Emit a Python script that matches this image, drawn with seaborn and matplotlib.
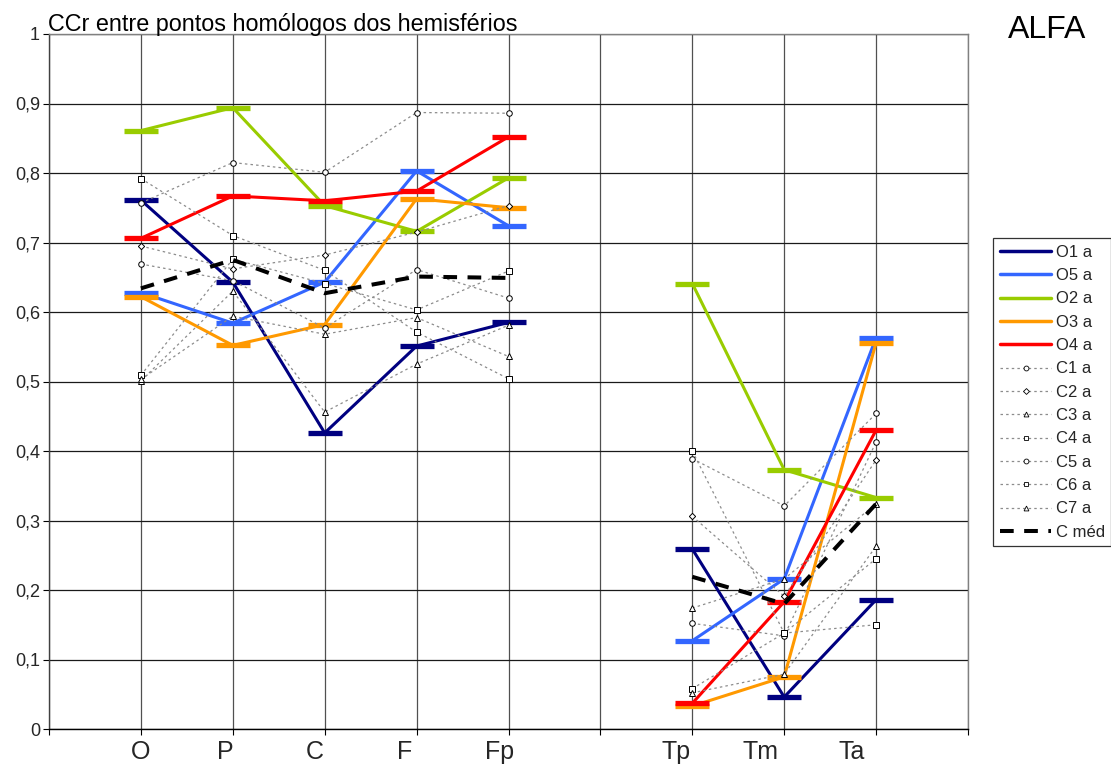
import matplotlib
matplotlib.use("Agg")
import matplotlib.pyplot as plt
import matplotlib.transforms as mtransforms
from matplotlib.lines import Line2D
import pandas as pd
import seaborn as sns

# Electrode regions; slot 6 on the axis is left empty between the two groups
categories = ["O", "P", "C", "F", "Fp", "Tp", "Tm", "Ta"]
cat_pos = [1, 2, 3, 4, 5, 7, 8, 9]

# Patient series (alpha band)
O1 = [0.761, 0.643, 0.426, 0.551, 0.585, 0.259, 0.046, 0.186]
O5 = [0.628, 0.584, 0.643, 0.803, 0.724, 0.127, 0.216, 0.563]
O2 = [0.861, 0.894, 0.753, 0.716, 0.793, 0.641, 0.373, 0.333]
O3 = [0.622, 0.552, 0.582, 0.763, 0.750, 0.033, 0.075, 0.556]
O4 = [0.706, 0.767, 0.760, 0.774, 0.852, 0.037, 0.183, 0.430]

# Control series
C1 = [0.757, 0.815, 0.801, 0.887, 0.886, 0.389, 0.321, 0.454]
C2 = [0.695, 0.662, 0.682, 0.715, 0.753, 0.306, 0.191, 0.387]
C3 = [0.501, 0.630, 0.456, 0.525, 0.581, 0.174, 0.216, 0.324]
C4 = [0.792, 0.710, 0.660, 0.571, 0.504, 0.400, 0.138, 0.245]
C5 = [0.669, 0.645, 0.577, 0.661, 0.620, 0.152, 0.134, 0.413]
C6 = [0.509, 0.676, 0.641, 0.603, 0.659, 0.058, 0.138, 0.150]
C7 = [0.503, 0.594, 0.568, 0.592, 0.536, 0.052, 0.079, 0.263]
C_med = [0.634, 0.675, 0.627, 0.651, 0.649, 0.219, 0.180, 0.324]

patient_names = ["O1 a", "O5 a", "O2 a", "O3 a", "O4 a"]
patient_values = [O1, O5, O2, O3, O4]
patient_colors = ["#000080", "#3366FF", "#99CC00", "#FF9900", "#FF0000"]

control_names = ["C1 a", "C2 a", "C3 a", "C4 a", "C5 a", "C6 a", "C7 a"]
control_values = [C1, C2, C3, C4, C5, C6, C7]
control_markers = ["o", "D", "^", "s", "o", "s", "^"]

sns.set_theme(style="white")
plt.rcParams["font.family"] = ["Liberation Sans", "DejaVu Sans"]

W, H = 1111, 765
fig = plt.figure(figsize=(W / 100, H / 100), dpi=100)
ax = fig.add_axes([49 / W, 1 - 729 / H, (968 - 49) / W, (729 - 34) / H])

segments = [slice(0, 5), slice(5, 8)]


def draw(values, **kws):
    for seg in segments:
        df = pd.DataFrame({"x": cat_pos[seg], "y": values[seg]})
        sns.lineplot(data=df, x="x", y="y", ax=ax, sort=False,
                     estimator=None, legend=False, **kws)


for vals, col in zip(patient_values, patient_colors):
    draw(vals, color=col, linewidth=2.2, marker="_", markersize=25,
         markeredgewidth=3.8, markeredgecolor=col)

for vals, mk in zip(control_values, control_markers):
    draw(vals, color="#8c8c8c", linewidth=0.9, linestyle=(0, (2, 2.5)),
         marker=mk, markersize=4 if mk != "D" else 3.2,
         markerfacecolor="white", markeredgecolor="black",
         markeredgewidth=0.7)

draw(C_med, color="black", linewidth=2.9, linestyle=(0, (3.4, 2.6)))

# axes, grid and ticks
ax.set_xlim(0, 10)
ax.set_ylim(0, 1)
ax.set_xlabel("")
ax.set_ylabel("")

xt = list(range(0, 11))
xl = [""] * 11
for c, p in zip(categories, cat_pos):
    xl[p] = c
ax.set_xticks(xt)
ax.set_xticklabels(xl, fontsize=18)

yt = [i / 10 for i in range(11)]
yl = ["0" if v == 0 else "1" if v == 1 else f"{v:.1f}".replace(".", ",") for v in yt]
ax.set_yticks(yt)
ax.set_yticklabels(yl, fontsize=13)

ax.tick_params(axis="x", direction="out", length=4, width=0.8, color="black",
               pad=4, bottom=True)
ax.tick_params(axis="y", direction="out", length=4, width=0.8, color="black",
               pad=2.5, left=True)

shift_px = {"O": 0, "P": -7, "C": -10, "F": -12, "Fp": -9,
            "Tp": -16, "Tm": -24, "Ta": -24}
for lab in ax.get_xticklabels():
    dx = shift_px.get(lab.get_text(), 0)
    lab.set_transform(lab.get_transform() +
                      mtransforms.ScaledTranslation(dx / 100, 0, fig.dpi_scale_trans))

ax.grid(False)
for x in xt:
    ax.axvline(x, color="#505050", linewidth=0.9, zorder=0)
for y in yt:
    ax.axhline(y, color="#1a1a1a", linewidth=0.9, zorder=0)

for side in ["top", "right"]:
    ax.spines[side].set_color("#808080")
    ax.spines[side].set_linewidth(1.0)
ax.spines["left"].set_color("#404040")
ax.spines["bottom"].set_color("black")
for side in ["left", "bottom"]:
    ax.spines[side].set_linewidth(1.0)

# titles
fig.text(48 / W, 1 - 31 / H, "CCr entre pontos homólogos dos hemisférios",
         fontsize=16.8, ha="left", va="baseline", color="black")
fig.text(1047 / W, 1 - 30 / H, "ALFA", fontsize=23, ha="center",
         va="center", color="black")

# legend
handles = []
for name, col in zip(patient_names, patient_colors):
    handles.append(Line2D([], [], color=col, linewidth=2.5, label=name))
for name, mk in zip(control_names, control_markers):
    handles.append(Line2D([], [], color="#8c8c8c", linewidth=0.9,
                          linestyle=(0, (2, 2.5)), marker=mk,
                          markersize=3.5 if mk != "D" else 3,
                          markerfacecolor="white", markeredgecolor="black",
                          markeredgewidth=0.6, label=name))
handles.append(Line2D([], [], color="black", linewidth=2.9,
                      linestyle=(0, (3.4, 2.6)), label="C méd"))

leg = fig.legend(handles=handles, loc="upper left",
                 bbox_to_anchor=(993 / W, 1 - 238 / H),
                 bbox_transform=fig.transFigure, fontsize=12,
                 frameon=True, fancybox=False, handlelength=3.1,
                 handletextpad=0.25, labelspacing=0.5, borderpad=0.4,
                 borderaxespad=0)
leg.get_frame().set_edgecolor("black")
leg.get_frame().set_linewidth(0.9)

fig.savefig("out.png", dpi=100)
